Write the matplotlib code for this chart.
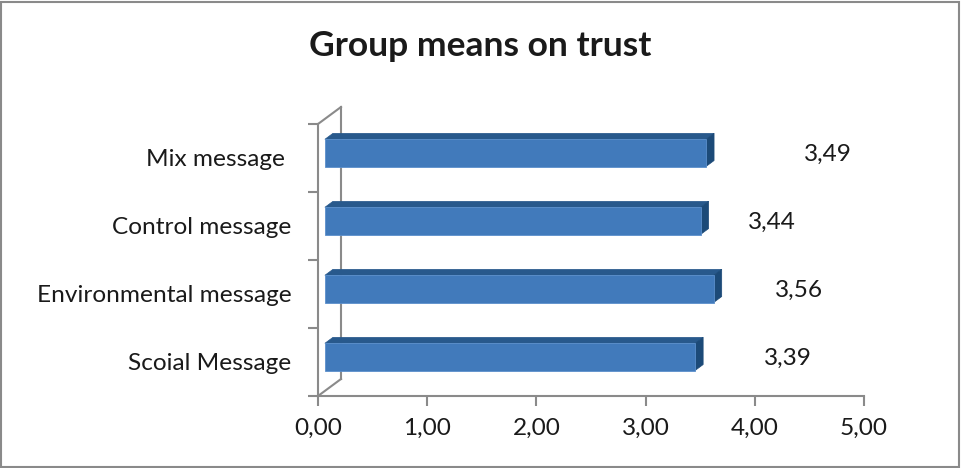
import matplotlib
matplotlib.use("Agg")
import matplotlib.pyplot as plt
import matplotlib.transforms as mtransforms
from matplotlib.patches import Polygon, Rectangle

# ---- data ----
title = "Group means on trust"
categories = ["Scoial Message", "Environmental message", "Control message", "Mix message "]
values = [3.39, 3.56, 3.44, 3.49]
value_labels = ["3,39", "3,56", "3,44", "3,49"]
xticks = [0, 1, 2, 3, 4, 5]
xtick_labels = ["0,00", "1,00", "2,00", "3,00", "4,00", "5,00"]

# ---- style ----
label_x = [4.30, 4.40, 4.16, 4.67]   # data-label placement (as in the reference)
FONT = "Lato"
FS = 17.6
GRAY = "#8a8a8a"
FRONT = "#417ABB"
TOP = "#28598C"
SIDE = "#1C4A78"
DDX, DDY = 0.2106, 0.25   # full-depth oblique offset in data units
Z0, Z1 = 0.30, 0.65        # bar depth span
HALF = 0.2                 # half bar height

W, H = 961, 468
fig = plt.figure(figsize=(W / 100, H / 100), dpi=100)
ax = fig.add_axes([318 / W, (H - 396) / H, 546 / W, 272 / H])
ax.set_xlim(0, 5)
ax.set_ylim(0, 4)

def P(x, y, z):
    return (x + z * DDX, y + z * DDY)

# walls
ax.plot([P(0, 0, 1)[0]] * 2, [P(0, 0, 1)[1], P(0, 4, 1)[1]], color=GRAY, lw=1.5, clip_on=False, zorder=1)
for yy in (0, 4):
    a, b = P(0, yy, 0), P(0, yy, 1)
    ax.plot([a[0], b[0]], [a[1], b[1]], color=GRAY, lw=1.5, clip_on=False, zorder=1)

# bars
for i, v in enumerate(values):
    c = i + 0.5
    y0, y1 = c - HALF, c + HALF
    top = [P(0, y1, Z0), P(v, y1, Z0), P(v, y1, Z1), P(0, y1, Z1)]
    side = [P(v, y0, Z0), P(v, y0, Z1), P(v, y1, Z1), P(v, y1, Z0)]
    front = [P(0, y0, Z0), P(v, y0, Z0), P(v, y1, Z0), P(0, y1, Z0)]
    ax.add_patch(Polygon(top, closed=True, facecolor=TOP, edgecolor=TOP, lw=0.5, clip_on=False, zorder=3))
    ax.add_patch(Polygon(side, closed=True, facecolor=SIDE, edgecolor=SIDE, lw=0.5, clip_on=False, zorder=3))
    ax.add_patch(Polygon(front, closed=True, facecolor=FRONT, edgecolor="#5b8fcc", lw=0.6, clip_on=False, zorder=4))
    ax.text(label_x[i], c + 0.06, value_labels[i], ha="center", va="center",
            fontsize=FS, family=FONT, color="#1a1a1a", zorder=5)

# axes styling
for s in ("top", "right"):
    ax.spines[s].set_visible(False)
for s in ("left", "bottom"):
    ax.spines[s].set_color(GRAY)
    ax.spines[s].set_linewidth(1.5)
ax.set_xticks(xticks)
ax.set_xticklabels(xtick_labels, fontsize=FS, family=FONT, color="#1a1a1a")
ax.set_yticks([0, 1, 2, 3, 4])
ax.set_yticklabels([])
ax.set_yticks([i + 0.5 for i in range(len(categories))], minor=True)
ax.set_yticklabels(categories, minor=True, fontsize=FS, family=FONT, color="#1a1a1a")
shift = mtransforms.ScaledTranslation(0, -3 / 100, fig.dpi_scale_trans)
for t in ax.get_yticklabels(minor=True):
    t.set_transform(t.get_transform() + shift)
ax.tick_params(axis="both", which="major", length=7, width=1.5, color=GRAY)
ax.tick_params(axis="x", pad=9)
ax.tick_params(axis="y", which="minor", length=0, pad=19)
ax.patch.set_alpha(0)

fig.text(480 / W, 1 - 46 / H, title, ha="center", va="center", fontsize=25.5,
         fontweight="bold", family=FONT, color="#1a1a1a")

fig.add_artist(Rectangle((1 / W, 1 / H), (W - 3) / W, (H - 3) / H, transform=fig.transFigure,
                         fill=False, edgecolor=GRAY, lw=1.5))

fig.savefig("out.png", dpi=100)
